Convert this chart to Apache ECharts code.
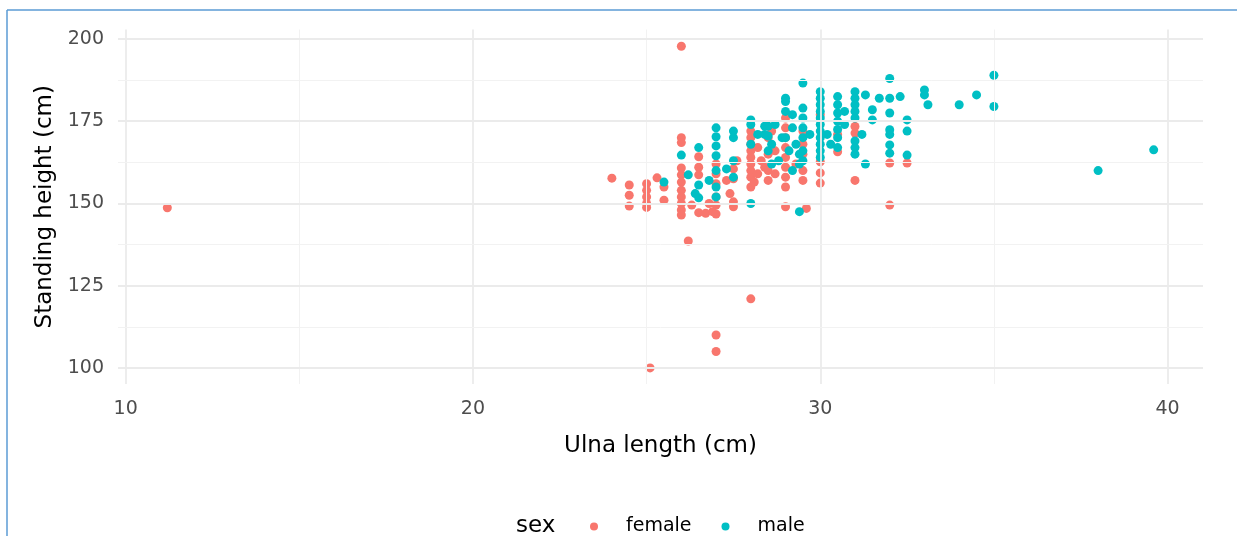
<!DOCTYPE html>
<html>
<head>
	<meta charset="utf-8">
	<title>Ulna length vs standing height</title>
	<script src="https://cdn.jsdelivr.net/npm/echarts@6/dist/echarts.min.js"></script>
	<style>
		html, body { margin: 0; padding: 0; background: #fff; }
		#main { width: 1237px; height: 536px; }
	</style>
</head>
<body>
	<div id="main"></div>
	<script type="text/javascript">
		// [ulna length (cm), standing height (cm)]
		var female = [
			[11.2, 148.7], [26, 197.8], [26.2, 138.6], [28, 121], [27, 110], [27, 105], [25.1, 100],
			[24, 157.7], [24.5, 155.6], [24.5, 152.5], [24.5, 149.2],
			[25, 156], [25, 154], [25, 152], [25, 150], [25, 148.8], [25.3, 157.8],
			[25.5, 155], [25.5, 151],
			[26, 170], [26, 168.5], [26, 160.8], [26, 158.7], [26, 156.5], [26, 154], [26, 152], [26, 150],
			[26, 148], [26, 146.5], [26.3, 149.5],
			[26.5, 164.2], [26.5, 161], [26.5, 158.7], [26.5, 147.2], [26.7, 147], [26.8, 150],
			[27, 162], [27, 159], [27, 156], [27, 152], [27, 149.5], [26.9, 147.5], [27, 146.8],
			[27.3, 157], [27.4, 153], [27.5, 160.5], [27.5, 157.5], [27.5, 150.5], [27.5, 149], [27.6, 163],
			[28, 172], [28, 170], [28, 168], [28, 166], [28, 164], [28, 162], [28, 160], [28, 158], [28, 155],
			[28.2, 167], [28.3, 163], [28.4, 161], [28.2, 159], [28.1, 156.5],
			[28.5, 170], [28.5, 165], [28.5, 160], [28.5, 157], [28.7, 166], [28.6, 172], [28.7, 159],
			[29, 176], [29, 173], [29, 170], [29, 167], [29, 164], [29, 161], [29, 158], [29, 155], [29, 149],
			[29.5, 172], [29.5, 168], [29.5, 165], [29.5, 160], [29.5, 157], [29.6, 148.5], [29.3, 162],
			[30, 177], [30, 162.7], [30, 159.3], [30, 156.2],
			[30.5, 165.7], [30.5, 171],
			[31, 173.4], [31, 171.4], [31, 157],
			[32, 162.3], [32, 149.5], [32.5, 162.3]
		];
		var male = [
			[38, 160], [39.6, 166.3],
			[25.5, 156.5], [26, 164.7], [26.2, 158.7], [26.5, 167], [26.5, 155.6], [26.5, 151.7], [26.4, 153],
			[27, 173], [27, 170.3], [27, 167.5], [27, 164.5], [27, 160], [27, 155], [27, 152], [26.8, 157],
			[27.5, 172], [27.5, 170], [27.5, 163], [27.5, 158], [27.3, 160.5],
			[28, 175.4], [28, 174], [28, 150], [28, 168], [28.2, 171], [28.4, 173.5], [28.4, 171], [28.6, 168],
			[28.5, 173.5], [28.5, 170.5], [28.5, 166], [28.7, 174], [28.8, 163], [28.9, 170], [28.6, 162],
			[29, 182], [29, 181], [29, 178], [29, 170], [29.2, 177], [29.2, 173], [29.3, 168], [29.4, 165],
			[29.4, 162], [29.4, 147.5], [29.1, 166], [29.2, 160],
			[29.5, 186.6], [29.5, 179], [29.5, 176], [29.5, 173], [29.5, 170], [29.5, 166], [29.5, 163], [29.7, 171],
			[30, 184], [30, 182], [30, 180], [30, 178], [30, 176], [30, 174], [30, 172], [30, 170], [30, 168],
			[30, 166], [30, 164], [30.2, 171], [30.3, 168],
			[30.5, 182.5], [30.5, 180], [30.5, 177.5], [30.5, 175], [30.5, 172.5], [30.5, 170], [30.5, 167],
			[30.7, 178], [30.7, 174],
			[31, 184], [31, 182], [31, 180], [31, 178], [31, 176], [31, 169], [31, 167], [31, 165],
			[31.3, 183], [31.3, 162], [31.5, 175.4], [31.5, 178.5], [31.2, 171],
			[31.7, 182], [32, 188], [32, 182], [32, 177.5], [32, 172.4], [32, 171], [32, 167.8], [32, 165.3],
			[32.3, 182.5], [32.5, 175.4], [32.5, 172], [32.5, 164.7],
			[33, 184.5], [33, 183], [33.1, 180], [34, 180], [34.5, 183], [35, 189], [35, 179.5]
		];
		var xTicks = [10, 20, 30, 40];
		var xMinor = [15, 25, 35];
		var yTicks = [100, 125, 150, 175, 200];
		var yMinor = [112.5, 137.5, 162.5, 187.5];

		var font = 'DejaVu Sans';
		var majorStyle = { color: '#EBEBEB', width: 1.8, type: 'solid' };
		var minorStyle = { color: '#F2F2F2', width: 1, type: 'solid' };

		// grid lines as mark lines, so they sit behind the points
		var gridLines = [];
		xTicks.forEach(function (v) { gridLines.push({ xAxis: v, lineStyle: majorStyle }); });
		xMinor.forEach(function (v) { gridLines.push({ xAxis: v, lineStyle: minorStyle }); });
		yTicks.forEach(function (v) { gridLines.push({ yAxis: v, lineStyle: majorStyle }); });
		yMinor.forEach(function (v) { gridLines.push({ yAxis: v, lineStyle: minorStyle }); });

		var myChart = echarts.init(document.getElementById('main'));

		var option = {
			animation: false,
			backgroundColor: '#fff',
			textStyle: { fontFamily: font },
			grid: { left: 118, right: 34, top: 29.5, bottom: 152 },
			xAxis: {
				type: 'value',
				min: 9.78,
				max: 41.02,
				name: 'Ulna length (cm)',
				nameLocation: 'middle',
				nameGap: 51,
				nameTextStyle: { fontFamily: font, fontSize: 23, color: '#000' },
				axisLine: { show: false },
				axisTick: { show: false },
				splitLine: { show: false },
				axisLabel: {
					customValues: xTicks,
					fontFamily: font, fontSize: 19, color: '#4D4D4D', margin: 16
				}
			},
			yAxis: {
				type: 'value',
				min: 95.1,
				max: 202.9,
				name: 'Standing height (cm)',
				nameLocation: 'middle',
				nameGap: 57,
				nameTextStyle: { fontFamily: font, fontSize: 23, color: '#000' },
				axisLine: { show: false },
				axisTick: { show: false },
				splitLine: { show: false },
				axisLabel: {
					customValues: yTicks,
					fontFamily: font, fontSize: 19, color: '#4D4D4D', margin: 14
				}
			},
			legend: {
				data: ['female', 'male'],
				left: 585,
				top: 512,
				icon: 'circle',
				itemWidth: 8,
				itemHeight: 8,
				itemGap: 30,
				textStyle: { fontFamily: font, fontSize: 19, color: '#000', padding: [0, 0, 0, 23] }
			},
			graphic: [
				{ type: 'text', left: 516, top: 515, style: { text: 'sex', font: '23px "DejaVu Sans"', fill: '#000' } },
				{ type: 'line', shape: { x1: 7, y1: 10, x2: 1237, y2: 10 }, style: { stroke: '#5B9BD5', lineWidth: 1.5 } },
				{ type: 'line', shape: { x1: 7, y1: 10, x2: 7, y2: 536 }, style: { stroke: '#5B9BD5', lineWidth: 1.5 } }
			],
			series: [
				{
					name: 'grid',
					type: 'scatter',
					data: [],
					z: 0,
					silent: true,
					markLine: { silent: true, symbol: 'none', label: { show: false }, data: gridLines }
				},
				{
					name: 'female',
					type: 'scatter',
					symbolSize: 9,
					itemStyle: { color: '#F8766D', opacity: 1 },
					data: female
				},
				{
					name: 'male',
					type: 'scatter',
					symbolSize: 9,
					itemStyle: { color: '#00BFC4', opacity: 1 },
					data: male
				}
			]
		};

		myChart.setOption(option);
	</script>
</body>
</html>
